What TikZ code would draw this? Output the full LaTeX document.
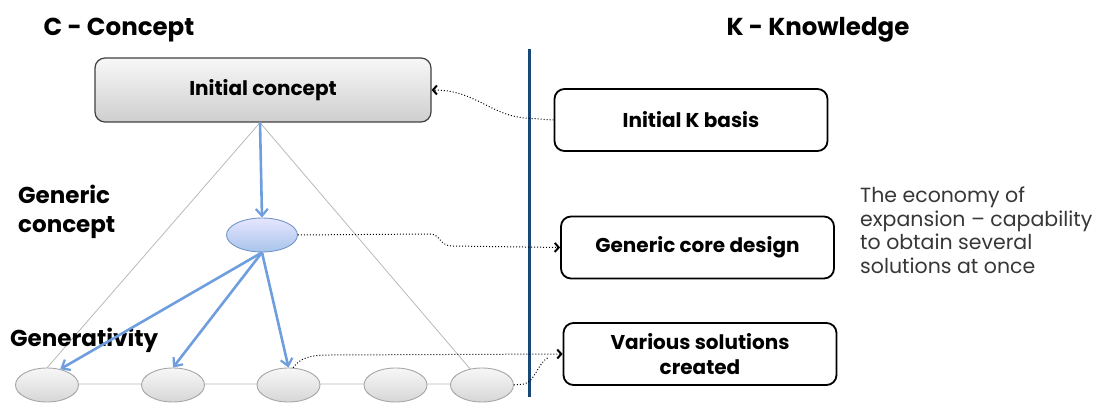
\documentclass[tikz,border=0pt]{standalone}
\usepackage{fontspec}
\setmainfont{Poppins}
\usetikzlibrary{arrows.meta,shapes.geometric}
\definecolor{vline}{RGB}{25,72,118}
\definecolor{bluearr}{RGB}{110,158,222}
\definecolor{txtgray}{RGB}{55,55,55}
\begin{document}
\begin{tikzpicture}[x=1pt,y=-1pt,
  title/.style={font=\fontsize{24.5}{28}\selectfont\bfseries, inner sep=0pt},
  lbl/.style={font=\fontsize{23}{29}\selectfont\bfseries, inner sep=0pt, align=left},
  icbox/.style={draw=black!75, line width=1.2pt, rounded corners=10pt, top color=gray!6, bottom color=gray!38,
     minimum width=336pt, minimum height=64pt, inner sep=0pt, font=\fontsize{20}{24}\selectfont\bfseries},
  kbox/.style={draw=black, line width=1.8pt, rounded corners=10pt, fill=white,
     minimum width=273pt, minimum height=62pt, inner sep=0pt, align=center, font=\fontsize{20}{25}\selectfont\bfseries},
  sol/.style={ellipse, draw=gray!70, line width=0.9pt, top color=gray!6, bottom color=gray!32,
     minimum width=63pt, minimum height=34pt, inner sep=0pt},
  gen/.style={ellipse, draw=bluearr!75!gray, line width=0.9pt, top color=blue!10, bottom color=bluearr!60,
     minimum width=71pt, minimum height=34pt, inner sep=0pt},
  barr/.style={draw=bluearr, line width=2.6pt, -{Straight Barb[length=7pt,width=12pt,line width=2.2pt]}},
  dotc/.style={draw=black, line width=1pt, dotted, -{Straight Barb[length=4pt,width=9pt,line width=2pt]}},
  dotn/.style={draw=black, line width=1pt, dotted},
  tri/.style={draw=gray!55, line width=0.8pt}
]
\useasboundingbox (0,0) rectangle (1101,403);
% titles
\node[title] (tc) at (119,30) {C - Concept};
\node[title] (tk) at (818,30) {K - Knowledge};
% vertical divider
\coordinate (vt) at (529,49);
\coordinate (vb) at (529,397);
\draw[vline, line width=3pt] (vt) -- (vb);
% initial concept
\node[icbox] (ic) at (263,90) {Initial concept};
\coordinate (apex) at ([xshift=-3pt]ic.south);
% triangle
\coordinate (bl) at (33,384);
\coordinate (br) at (483,384);
\draw[tri] (apex) -- (bl) -- (br) -- cycle;
% ellipses
\node[sol] (e1) at (47,385) {};
\node[sol] (e2) at (173,385) {};
\node[sol] (e3) at (288.5,385) {};
\node[sol] (e4) at (395.5,385) {};
\node[sol] (e5) at (482,385) {};
\node[gen] (ge) at (262,235) {};
% left labels
\node[lbl, anchor=north west] (lg) at (18,185) {Generic\\concept};
\node[lbl, anchor=base west] (lgv) at (10,347) {Generativity};
% K boxes
\node[kbox] (kb) at (691,120) {Initial K basis};
\node[kbox] (gc) at (697.5,247.5) {Generic core design};
\node[kbox] (vs) at (700,354) {Various solutions\\created};
% right text
\node[anchor=north west, align=left, inner sep=0pt, text=txtgray,
      font=\fontsize{20.5}{23.5}\selectfont] (rt) at (860,187)
  {The economy of\\expansion -- capability\\to obtain several\\solutions at once};
% blue arrows
\draw[barr] (apex) -- (ge.north);
\draw[barr] (ge.south) -- (e1.50);
\draw[barr] (ge.south) -- (e2.north);
\draw[barr] (ge.south) -- (e3.north);
% dotted connectors
\draw[dotc] (kb.west) -- (525,118) .. controls (490,115) and (475,90) .. (ic.east);
\draw[dotc] (ge.east) -- (430,234) .. controls (440,234) and (440,246) .. (452,246) -- (gc.west);
\draw[dotc] (e3.75) .. controls (300,358) and (310,355) .. (330,355) -- (vs.west);
\coordinate (vsin) at (549,357);
\draw[dotn] (e5.east) -- (524,384) .. controls (535,382) and (538,362) .. (vsin);
\end{tikzpicture}
\end{document}
